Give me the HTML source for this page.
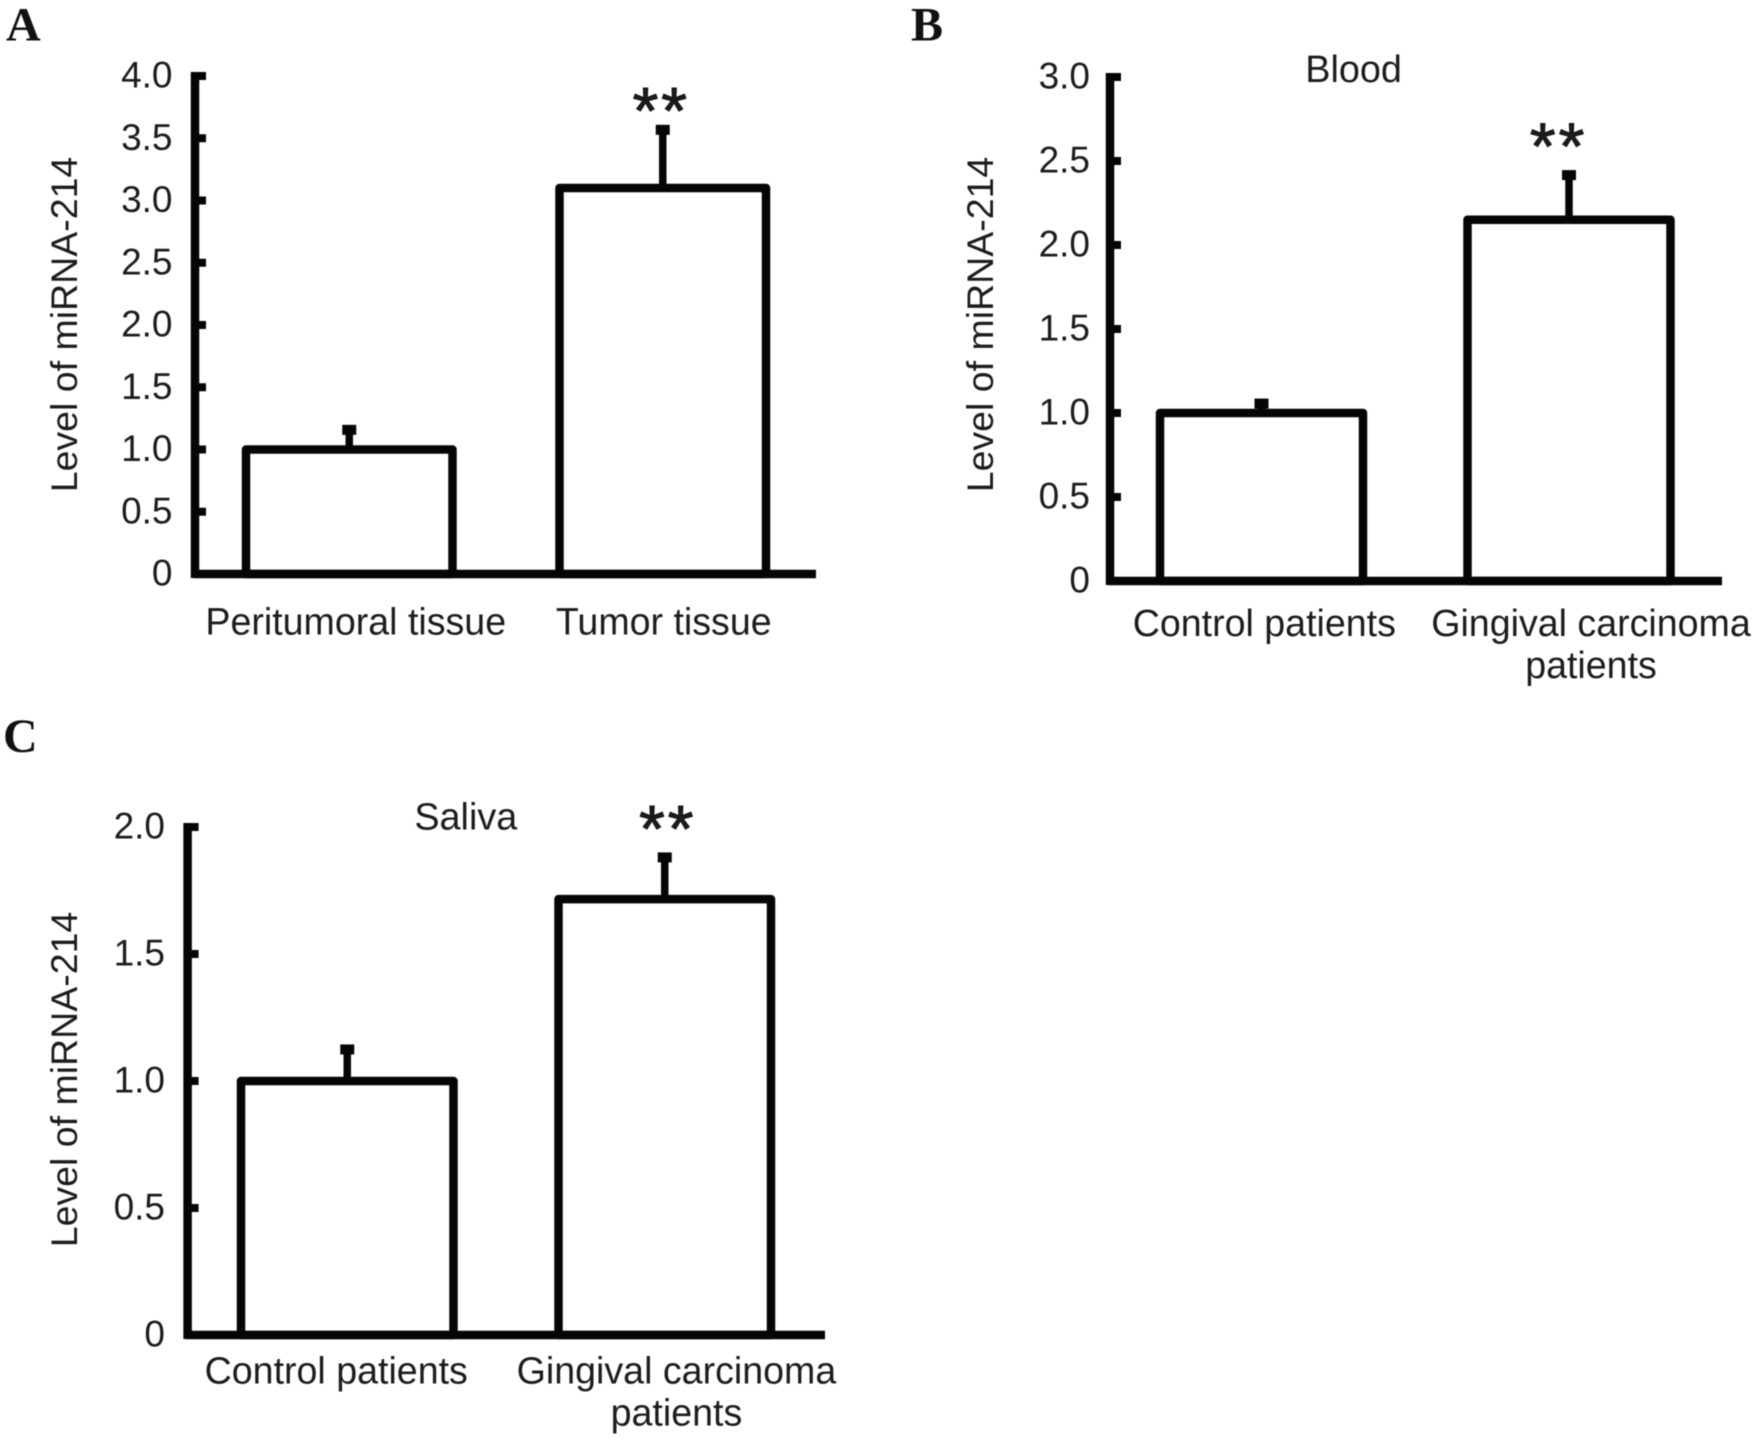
<!DOCTYPE html>
<html lang="en">
<head>
<meta charset="utf-8">
<title>Level of miRNA-214 in tissue, blood and saliva</title>
<style>
html,body{margin:0;padding:0;background:#fff;width:1762px;height:1446px;overflow:hidden}
svg{display:block;filter:blur(.6px)}
text{font-family:"Liberation Sans",Arial,sans-serif;fill:#1c1c1c}
.panel-letter{font-family:"Liberation Serif","Times New Roman",serif;font-weight:700;font-size:48px;fill:#111}
</style>
</head>
<body>
<svg id="figure" xmlns="http://www.w3.org/2000/svg" width="1762" height="1446" viewBox="0 0 1762 1446">
  <rect width="1762" height="1446" fill="#fff"/>
  <text class="panel-letter" x="6" y="40.5">A</text>
  <text class="panel-letter" x="911" y="40.5">B</text>
  <text class="panel-letter" x="3" y="752">C</text>
</svg>
<script>
// ---- Panel A data ----
const categoriesA = ['Peritumoral tissue', 'Tumor tissue'];
const valuesA = [1.0, 3.1];
const errorsA = [0.19, 0.5];
const significanceA = ['', '**'];
const tickValuesA = [0, 0.5, 1, 1.5, 2, 2.5, 3, 3.5, 4];
const tickLabelsA = ['0', '0.5', '1.0', '1.5', '2.0', '2.5', '3.0', '3.5', '4.0'];

// ---- Panel B data ----
const categoriesB = ['Control patients', 'Gingival carcinoma|patients'];
const valuesB = [1.0, 2.15];
const errorsB = [0.08, 0.29];
const significanceB = ['', '**'];
const tickValuesB = [0, 0.5, 1, 1.5, 2, 2.5, 3];
const tickLabelsB = ['0', '0.5', '1.0', '1.5', '2.0', '2.5', '3.0'];

// ---- Panel C data ----
const categoriesC = ['Control patients', 'Gingival carcinoma|patients'];
const valuesC = [1.0, 1.716];
const errorsC = [0.14, 0.18];
const significanceC = ['', '**'];
const tickValuesC = [0, 0.5, 1, 1.5, 2];
const tickLabelsC = ['0', '0.5', '1.0', '1.5', '2.0'];

const INK = '#050505';
const SVG_NS = 'http://www.w3.org/2000/svg';
const figure = document.getElementById('figure');

function make(tag, attrs, parent, content) {
  const el = document.createElementNS(SVG_NS, tag);
  for (const k in attrs) el.setAttribute(k, attrs[k]);
  if (content !== undefined) el.textContent = content;
  parent.appendChild(el);
  return el;
}

function drawPanel(key, d, g) {
  const yScale = v => g.y0 - (v - d.tickValues[0]) * g.pxPerUnit;
  const xBand = i => g.bandStart + i * g.bandStep;
  const xCenter = i => xBand(i) + g.bandWidth / 2;
  const yMax = yScale(d.tickValues[d.tickValues.length - 1]);

  const panel = make('g', {}, figure);
  
  

  // y-axis title
  const title = make('text', {
    transform: 'translate(' + g.yTitleX + ',' + g.yTitleMid + ') rotate(-90)',
    'text-anchor': 'middle', 'font-size': 37.5
  }, panel, 'Level of miRNA-214');
  
  

  // panel subtitle
  if (g.subtitle) {
    const sub = make('text', {
      x: g.subtitleX, y: g.subtitleY, 'text-anchor': 'middle', 'font-size': 37.8
    }, panel, g.subtitle);
    
    
  }

  // ticks and tick labels
  d.tickValues.forEach((v, i) => {
    const mark = make('line', {
      x1: g.x0, x2: g.x0 + 11, y1: yScale(v), y2: yScale(v),
      stroke: INK, 'stroke-width': 8
    }, panel);
    
    

    const label = make('text', {
      x: g.tickLabelRight, y: yScale(v) + 11.5, 'text-anchor': 'end', 'font-size': 37
    }, panel, d.tickLabels[i]);
    
    
  });

  // bars with error bars
  d.values.forEach((v, i) => {
    const cx = xCenter(i);
    const errTop = yScale(v + d.errors[i]);

    const stem = make('line', {
      x1: cx, x2: cx, y1: yScale(v), y2: errTop,
      stroke: INK, 'stroke-width': 7.5
    }, panel);
    
    

    const cap = make('line', {
      x1: cx - 7, x2: cx + 7, y1: errTop + 4, y2: errTop + 4,
      stroke: INK, 'stroke-width': 10
    }, panel);
    
    

    const bar = make('rect', {
      x: xBand(i), y: yScale(v), width: g.bandWidth, height: g.y0 - yScale(v),
      fill: '#fff', stroke: INK, 'stroke-width': 8.5, 'stroke-linejoin': 'round'
    }, panel);
    
    

    if (d.significance[i]) {
      const stars = make('text', {
        x: cx + g.starDx, y: errTop + g.starDy, 'text-anchor': 'middle',
        'font-size': 66, 'letter-spacing': 3, stroke: '#111', 'stroke-width': 1
      }, panel, d.significance[i]);
      
      
    }

    // category label (possibly two lines)
    d.categories[i].split('|').forEach((line, n) => {
      const cat = make('text', {
        x: cx + g.labelShift[i], y: g.labelY + n * g.labelLead,
        'text-anchor': 'middle', 'font-size': 37.6
      }, panel, line);
      
      
    });
  });

  // axes drawn last, on top of bars
  const yAxis = make('line', {
    x1: g.x0, x2: g.x0, y1: yMax - 4, y2: g.y0 + 4, stroke: INK, 'stroke-width': 8.5
  }, panel);
  
  

  const xAxis = make('line', {
    x1: g.x0 - 2, x2: g.xEnd, y1: g.y0, y2: g.y0, stroke: INK, 'stroke-width': 8.5
  }, panel);
  
  
}

drawPanel('a',
  { categories: categoriesA, values: valuesA, errors: errorsA, significance: significanceA,
    tickValues: tickValuesA, tickLabels: tickLabelsA },
  { x0: 195, xEnd: 816, y0: 574, pxPerUnit: 124.5,
    bandStart: 246, bandStep: 313.5, bandWidth: 206.5,
    tickLabelRight: 172.5, yTitleX: 77, yTitleMid: 324.5,
    labelY: 634.5, labelLead: 42, labelShift: [6.5, 1],
    starDx: -1.5, starDy: 7.6 });

drawPanel('b',
  { categories: categoriesB, values: valuesB, errors: errorsB, significance: significanceB,
    tickValues: tickValuesB, tickLabels: tickLabelsB },
  { x0: 1110, xEnd: 1722, y0: 581, pxPerUnit: 168,
    bandStart: 1160, bandStep: 307.5, bandWidth: 203,
    tickLabelRight: 1090, yTitleX: 993, yTitleMid: 324.5,
    labelY: 636, labelLead: 42, labelShift: [2.8, 22],
    starDx: -10.4, starDy: -2,
    subtitle: 'Blood', subtitleX: 1353.6, subtitleY: 82 });

drawPanel('c',
  { categories: categoriesC, values: valuesC, errors: errorsC, significance: significanceC,
    tickValues: tickValuesC, tickLabels: tickLabelsC },
  { x0: 187.6, xEnd: 825, y0: 1335, pxPerUnit: 254,
    bandStart: 241, bandStep: 317.5, bandWidth: 212.5,
    tickLabelRight: 165, yTitleX: 77, yTitleMid: 1079.5,
    labelY: 1383.5, labelLead: 42, labelShift: [-11, 11.7],
    starDx: 3, starDy: -2,
    subtitle: 'Saliva', subtitleX: 465.8, subtitleY: 829.5 });
</script>
</body>
</html>
